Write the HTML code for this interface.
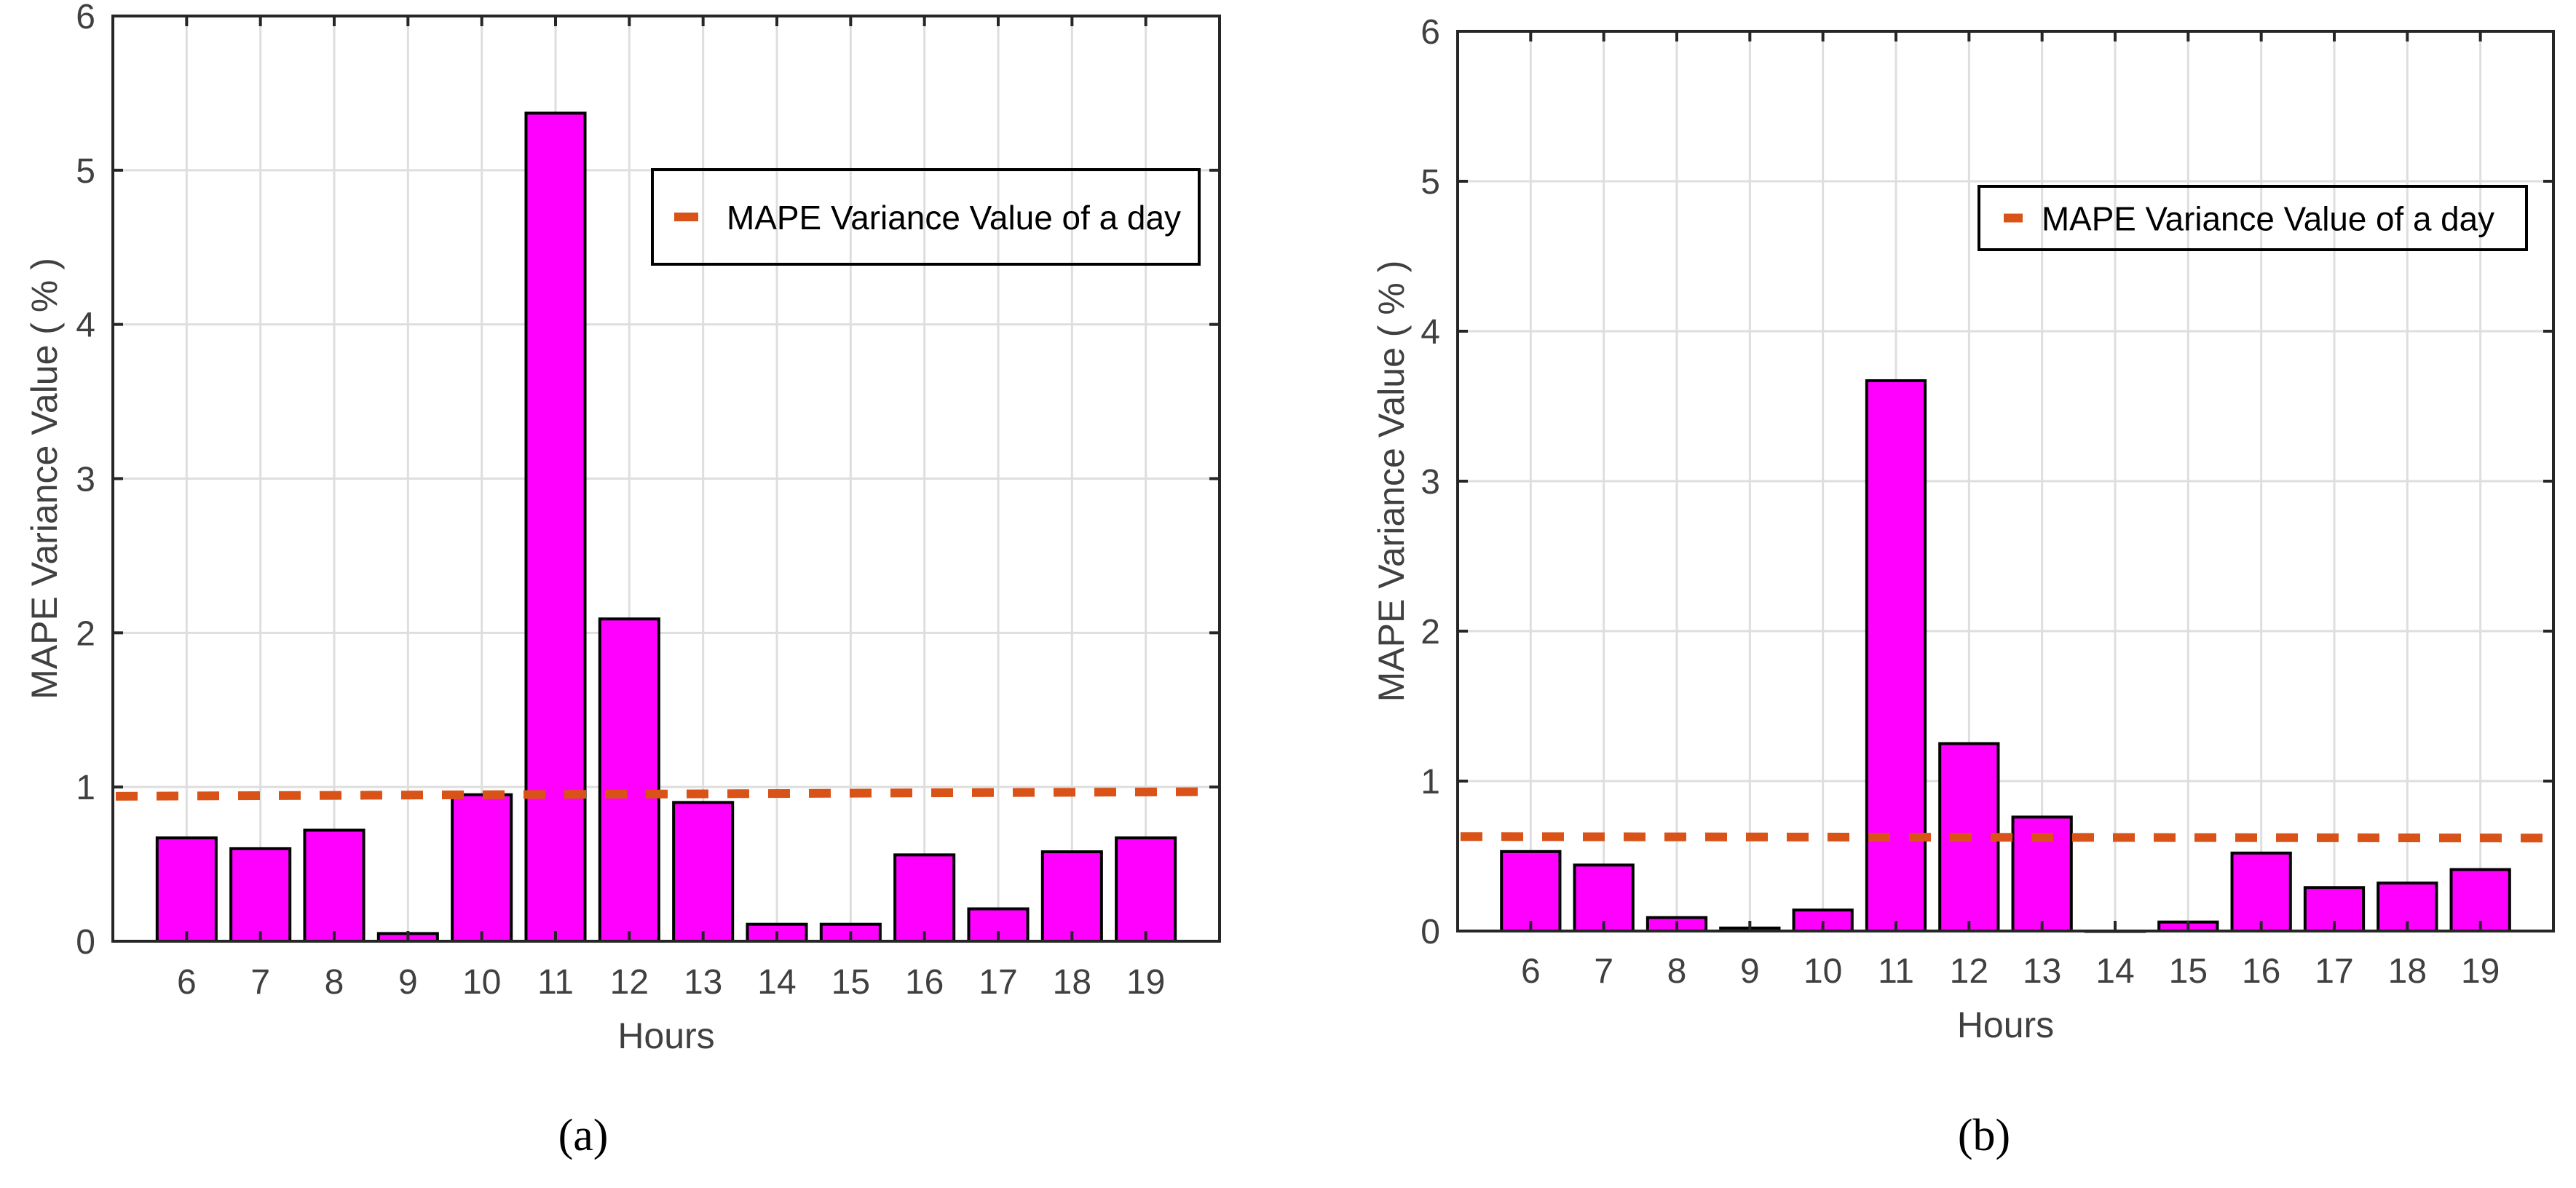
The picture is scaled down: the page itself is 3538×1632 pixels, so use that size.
<!DOCTYPE html>
<html><head><meta charset="utf-8"><style>
html,body{margin:0;padding:0;background:#fff;}
svg{display:block;}
text{font-family:"Liberation Sans",sans-serif;}
text.cap{font-family:"Liberation Serif",serif;}
</style></head><body>
<svg id="fig" width="3538" height="1632" viewBox="0 0 3538 1632" xmlns="http://www.w3.org/2000/svg"></svg>
<script>
const hours = [6,7,8,9,10,11,12,13,14,15,16,17,18,19];
const valuesA = [0.67,0.60,0.72,0.05,0.95,5.37,2.09,0.90,0.11,0.11,0.56,0.21,0.58,0.67];
const valuesB = [0.53,0.44,0.09,0.02,0.14,3.67,1.25,0.76,0.00,0.06,0.52,0.29,0.32,0.41];
const meanA = [0.94,0.97];
const meanB = [0.63,0.62];
const yTicks = [0,1,2,3,4,5,6];
const legendText = "MAPE Variance Value of a day";

const NS="http://www.w3.org/2000/svg";
const svg=document.getElementById('fig');
function el(tag,attrs,parent){const e=document.createElementNS(NS,tag);for(const k in attrs)e.setAttribute(k,attrs[k]);(parent||svg).appendChild(e);return e;}

function drawChart(cfg){
  const g=el('g',{});
  
  
  const {x0,x1,y0,y1}=cfg;
  const sx=v=>x0+(v-5)/(20-5)*(x1-x0);
  const sy=v=>y0-(v/6)*(y0-y1);
  yTicks.forEach(t=>{
    const l=el('line',{x1:x0,x2:x1,y1:sy(t),y2:sy(t),stroke:'#dedede','stroke-width':3},g);
    
    
  });
  hours.forEach(h=>{
    const l=el('line',{x1:sx(h),x2:sx(h),y1:y0,y2:y1,stroke:'#dedede','stroke-width':3},g);
    
    
  });
  const bw=(sx(1)-sx(0))*0.8;
  cfg.values.forEach((v,i)=>{
    const top=sy(v);
    const r=el('rect',{x:sx(hours[i])-bw/2,y:top,width:bw,height:Math.max(y0-top,0.5),fill:'#ff00ff',stroke:'#000','stroke-width':4},g);
    
    
  });
  const ml=el('line',{x1:x0+4,x2:x1-4,y1:sy(cfg.mean[0]),y2:sy(cfg.mean[1]),stroke:'#d95319','stroke-width':12,'stroke-dasharray':'30 26'},g);
  
  
  const box=el('rect',{x:x0,y:y1,width:x1-x0,height:y0-y1,fill:'none',stroke:'#262626','stroke-width':4},g);
  
  
  yTicks.forEach(t=>{
    el('line',{x1:x0,x2:x0+14,y1:sy(t),y2:sy(t),stroke:'#262626','stroke-width':4},g);
    el('line',{x1:x1,x2:x1-14,y1:sy(t),y2:sy(t),stroke:'#262626','stroke-width':4},g);
    const tx=el('text',{x:x0-24,y:sy(t)+17,'text-anchor':'end','font-size':48,fill:'#404040'},g);
    tx.textContent=t;
    
    
  });
  hours.forEach(h=>{
    el('line',{x1:sx(h),x2:sx(h),y1:y1,y2:y1+14,stroke:'#262626','stroke-width':4},g);
    el('line',{x1:sx(h),x2:sx(h),y1:y0,y2:y0-14,stroke:'#262626','stroke-width':4},g);
    const tx=el('text',{x:sx(h),y:cfg.tickY,'text-anchor':'middle','font-size':48,fill:'#404040'},g);
    tx.textContent=h;
    
    
  });
  const xl=el('text',{x:(x0+x1)/2,y:cfg.hoursY,'text-anchor':'middle','font-size':50,fill:'#404040'},g);
  xl.textContent='Hours';
  
  
  const yl=el('text',{x:0,y:0,'text-anchor':'middle','font-size':50,fill:'#404040',transform:`translate(${cfg.ylabX},${(y0+y1)/2}) rotate(-90)`},g);
  yl.textContent='MAPE Variance Value ( % )';
  
  
  const L=cfg.legend;
  const lg=el('g',{},g);
  
  
  el('rect',{x:L.x,y:L.y,width:L.w,height:L.h,fill:'none',stroke:'#000','stroke-width':4},lg);
  el('line',{x1:L.mx,x2:L.mx+L.mw,y1:L.y+L.h/2,y2:L.y+L.h/2,stroke:'#d95319','stroke-width':12},lg);
  const lt=el('text',{x:L.tx,y:L.y+L.h/2+17,'font-size':46,fill:'#000',textLength:L.tw,lengthAdjust:'spacingAndGlyphs'},lg);
  lt.textContent=legendText;
  
  
  const cap=el('text',{x:cfg.capX,y:1580,'text-anchor':'middle','font-size':62,fill:'#000','class':'cap'},g);
  cap.textContent=cfg.cap;
  
  
}
drawChart({name:'chart-a',x0:155,x1:1675,y0:1293,y1:22,values:valuesA,mean:meanA,tickY:1365,hoursY:1440,ylabX:78,
  legend:{x:896,y:233,w:751,h:130,mx:926,mw:33,tx:998,tw:624},capX:801,cap:'(a)'});
drawChart({name:'chart-b',x0:2002,x1:3507,y0:1279,y1:43,values:valuesB,mean:meanB,tickY:1350,hoursY:1425,ylabX:1928,
  legend:{x:2718,y:256,w:752,h:87,mx:2752,mw:26,tx:2804,tw:622},capX:2725,cap:'(b)'});
</script>
</body></html>
